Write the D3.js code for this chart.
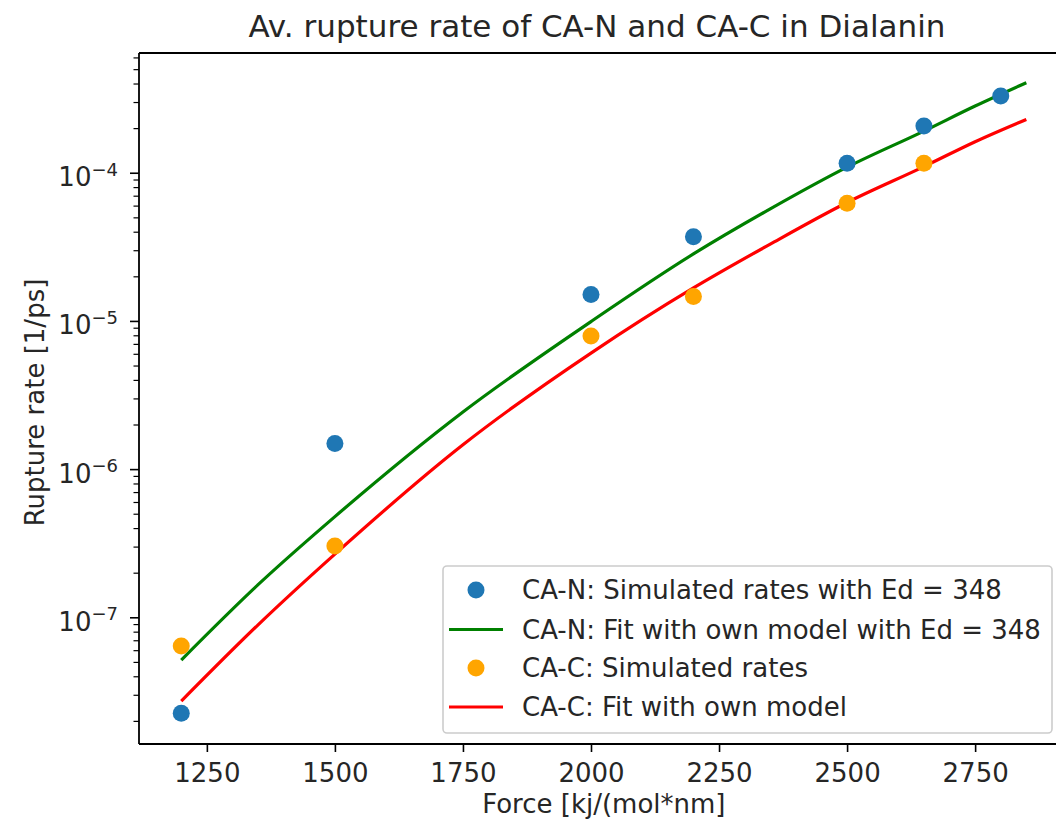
<!DOCTYPE html>
<html>
<head>
<meta charset="utf-8">
<script src="https://cdn.jsdelivr.net/npm/d3@7"></script>
<style>
  html, body { margin: 0; padding: 0; background: #fff; }
  svg { display: block; font-family: "DejaVu Sans", sans-serif; }
</style>
</head>
<body>
<svg id="chart" width="1056" height="827"></svg>
<script>
// ---- data ----
const forceN = [1200, 1500, 2000, 2200, 2500, 2650, 2800];
const rateN  = [2.25e-8, 1.49e-6, 1.51e-5, 3.70e-5, 1.16e-4, 2.07e-4, 3.30e-4];
const forceC = [1200, 1500, 2000, 2200, 2500, 2650];
const rateC  = [6.4e-8, 3.03e-7, 7.9e-6, 1.46e-5, 6.22e-5, 1.16e-4];
const fitForce = [1200, 1350, 1500, 1750, 2000, 2200, 2350, 2500, 2650, 2750, 2850];
const fitN = [5.15e-8, 1.66e-7, 4.78e-7, 2.43e-6, 9.9e-6, 2.83e-5, 5.7e-5, 1.09e-4, 1.91e-4, 2.82e-4, 4.05e-4];
const fitC = [2.72e-8, 8.9e-8, 2.67e-7, 1.46e-6, 6.07e-6, 1.67e-5, 3.3e-5, 6.3e-5, 1.10e-4, 1.62e-4, 2.29e-4];
const xTicks = [1250, 1500, 1750, 2000, 2250, 2500, 2750];
const yMajorExp = [-7, -6, -5, -4];
const legendLabels = [
  "CA-N: Simulated rates with Ed = 348",
  "CA-N: Fit with own model with Ed = 348",
  "CA-C: Simulated rates",
  "CA-C: Fit with own model"
];
const titleText = "Av. rupture rate of CA-N and CA-C in Dialanin";
const xLabel = "Force [kj/(mol*nm]";
const yLabel = "Rupture rate [1/ps]";

// ---- layout ----
const L = 139, R = 1068.6, T = 53, B = 744;
const svg = d3.select("#chart");
const x = d3.scaleLinear().domain([1117.5, 2932.5]).range([L, R]);
const y = d3.scaleLog().domain([Math.pow(10, -7.855), Math.pow(10, -3.192)]).range([B, T]);

svg.append("defs").append("clipPath").attr("id", "clip")
  .append("rect").attr("x", L).attr("y", T).attr("width", R - L).attr("height", B - T);

// minor ticks
const yMinor = [];
for (let e = -8; e <= -3; e++) for (let k = 2; k <= 9; k++) {
  const v = k * Math.pow(10, e);
  if (v >= y.domain()[0] && v <= y.domain()[1]) yMinor.push(v);
}
const yMajor = yMajorExp.map(e => Math.pow(10, e));

const fontSize = 26;

// x axis
const gx = svg.append("g").attr("transform", `translate(0,${B})`)
  .call(d3.axisBottom(x).tickValues(xTicks).tickSize(8).tickPadding(12).tickFormat(d3.format("d")));
gx.select(".domain").remove();
gx.selectAll("line").attr("stroke", "#000").attr("stroke-width", 1.6);
gx.selectAll("text").attr("font-size", fontSize).attr("fill", "#262626")
  .attr("font-family", "DejaVu Sans");

// y axis (major)
const gy = svg.append("g").attr("transform", `translate(${L},0)`)
  .call(d3.axisLeft(y).tickValues(yMajor).tickSize(9).tickFormat(() => ""));
gy.select(".domain").remove();
gy.selectAll("line").attr("stroke", "#000").attr("stroke-width", 1.6);
gy.selectAll(".tick").each(function(d, i) {
  const t = d3.select(this).append("text")
    .attr("x", -21).attr("y", 0).attr("text-anchor", "end")
    .attr("fill", "#262626").attr("font-family", "DejaVu Sans");
  t.append("tspan").attr("font-size", fontSize).attr("dy", 13).text("10");
  t.append("tspan").attr("font-size", 18).attr("dy", -10.5).text("\u2212" + Math.abs(yMajorExp[i]));
});
// y axis (minor)
const gym = svg.append("g").attr("transform", `translate(${L},0)`)
  .call(d3.axisLeft(y).tickValues(yMinor).tickSize(5.5).tickFormat(() => ""));
gym.select(".domain").remove();
gym.selectAll("line").attr("stroke", "#000").attr("stroke-width", 1.2);

// plot
const plot = svg.append("g").attr("clip-path", "url(#clip)");
const line = d3.line().x(d => x(d[0])).y(d => y(d[1])).curve(d3.curveMonotoneX);
plot.append("path").datum(fitForce.map((f, i) => [f, fitN[i]]))
  .attr("d", line).attr("fill", "none").attr("stroke", "green").attr("stroke-width", 3.2);
plot.append("path").datum(fitForce.map((f, i) => [f, fitC[i]]))
  .attr("d", line).attr("fill", "none").attr("stroke", "red").attr("stroke-width", 3.2);

const r = 8.5;
plot.selectAll("circle.n").data(forceN.map((f, i) => [f, rateN[i]])).enter()
  .append("circle").attr("class", "n").attr("cx", d => x(d[0])).attr("cy", d => y(d[1]))
  .attr("r", r).attr("fill", "#1f77b4");
plot.selectAll("circle.c").data(forceC.map((f, i) => [f, rateC[i]])).enter()
  .append("circle").attr("class", "c").attr("cx", d => x(d[0])).attr("cy", d => y(d[1]))
  .attr("r", r).attr("fill", "orange");

// spines
const sp = svg.append("g").attr("stroke", "#000").attr("stroke-width", 1.8).attr("fill", "none");
sp.append("line").attr("x1", L).attr("x2", L).attr("y1", T).attr("y2", B);
sp.append("line").attr("x1", L).attr("x2", R).attr("y1", B).attr("y2", B);
sp.append("line").attr("x1", L).attr("x2", R).attr("y1", T).attr("y2", T);
sp.append("line").attr("x1", R).attr("x2", R).attr("y1", T).attr("y2", B);

// legend
const lg = svg.append("g");
lg.append("rect").attr("x", 443).attr("y", 566).attr("width", 609).attr("height", 167)
  .attr("rx", 4).attr("fill", "#fff").attr("fill-opacity", 0.8)
  .attr("stroke", "#cccccc").attr("stroke-width", 1.6);
const rowY = [590, 629.5, 668, 707];
const kinds = [["dot", "#1f77b4"], ["line", "green"], ["dot", "orange"], ["line", "red"]];
legendLabels.forEach((lab, i) => {
  const [k, c] = kinds[i];
  if (k === "dot") lg.append("circle").attr("cx", 476).attr("cy", rowY[i]).attr("r", r).attr("fill", c);
  else lg.append("line").attr("x1", 449).attr("x2", 503).attr("y1", rowY[i]).attr("y2", rowY[i])
    .attr("stroke", c).attr("stroke-width", 3.2);
  lg.append("text").attr("x", 522).attr("y", rowY[i]).attr("dy", "0.36em")
    .attr("font-size", fontSize).attr("fill", "#262626").text(lab);
});

// title & labels
svg.append("text").attr("x", 597).attr("y", 37).attr("text-anchor", "middle")
  .attr("font-size", 31).attr("fill", "#262626").text(titleText);
svg.append("text").attr("x", (L + R) / 2).attr("y", 813).attr("text-anchor", "middle")
  .attr("font-size", fontSize).attr("fill", "#262626").text(xLabel);
svg.append("text").attr("transform", `translate(44,${(T + B) / 2 + 4}) rotate(-90)`)
  .attr("text-anchor", "middle").attr("font-size", fontSize).attr("fill", "#262626").text(yLabel);
</script>
</body>
</html>
